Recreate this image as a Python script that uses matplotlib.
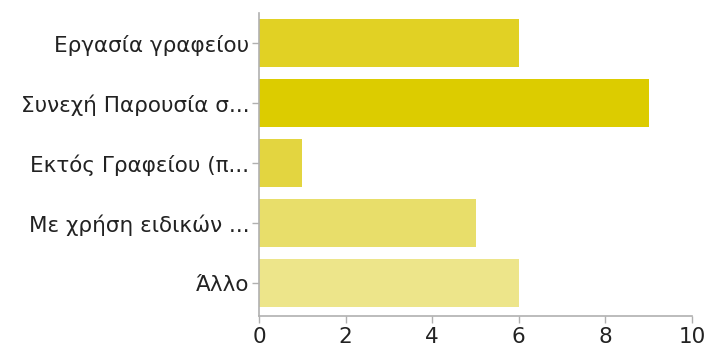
import matplotlib
matplotlib.use("Agg")
import matplotlib.pyplot as plt

categories = ["Εργασία γραφείου", "Συνεχή Παρουσία σ...", "Εκτός Γραφείου (π...",
              "Με χρήση ειδικών ...", "Άλλο"]
values = [6, 9, 1, 5, 6]
colors = ["#E1D124", "#DCCC00", "#E3D540", "#E8DE6A", "#EDE58A"]
xticks = [0, 2, 4, 6, 8, 10]

plt.rcParams['font.family'] = ['DejaVu Sans']

fig = plt.figure(figsize=(7.07, 3.49), dpi=100)
ax = fig.add_axes([259/707, 33/349, (692-259)/707, (316-13)/349])
ypos = list(range(len(categories)))
ax.barh(ypos, values, height=0.8, color=colors)
ax.set_ylim(4.55, -0.5)
ax.set_xlim(0, 10)
ax.set_xticks(xticks)
ax.set_yticks(ypos)
ax.set_yticklabels(categories)
for s in ["top", "right"]:
    ax.spines[s].set_visible(False)
for s in ["left", "bottom"]:
    ax.spines[s].set_color("#b0b0b0")
    ax.spines[s].set_linewidth(1.2)
ax.tick_params(axis="both", colors="#b0b0b0", labelcolor="#222222",
               length=5, width=1)
ax.tick_params(axis="y", pad=2, labelsize=15.5)
ax.tick_params(axis="x", pad=3, labelsize=15.5)
fig.savefig("out.png", dpi=100)
